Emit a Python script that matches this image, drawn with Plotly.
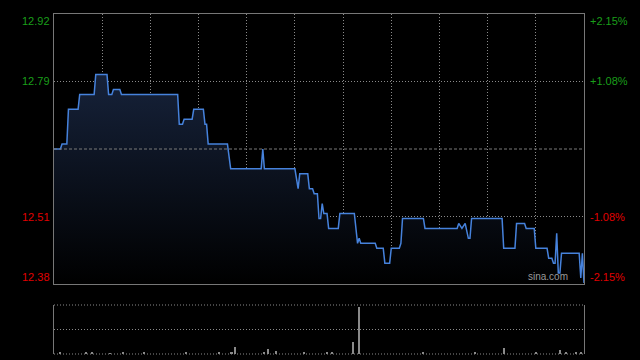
import plotly.graph_objects as go

# ---- data (HK stock intraday, minute index 0..330) ----
prev_close = 12.65
minutes = [0, 4, 5, 8, 9, 15, 16, 25, 26, 33, 34, 36, 37, 41, 42, 77, 78, 80, 81, 86,
           87, 93, 94, 95, 96, 108, 110, 129, 130, 131, 150, 152, 153, 158, 159, 161,
           162, 164, 165, 166, 167, 168, 170, 171, 177, 178, 187, 189, 190, 191, 200,
           201, 205, 206, 209, 210, 215, 216, 217, 230, 231, 251, 252, 254, 256, 258,
           259, 260, 279, 280, 287, 288, 293, 294, 299, 300, 307, 308, 310, 311, 312,
           313, 314, 315, 316, 327, 328, 329, 330]
prices = [12.65, 12.65, 12.66, 12.66, 12.73, 12.73, 12.76, 12.76, 12.80, 12.80, 12.76,
          12.76, 12.77, 12.77, 12.76, 12.76, 12.70, 12.70, 12.71, 12.71, 12.73, 12.73,
          12.70, 12.70, 12.66, 12.66, 12.61, 12.61, 12.65, 12.61, 12.61, 12.57, 12.60,
          12.60, 12.57, 12.57, 12.56, 12.56, 12.51, 12.51, 12.54, 12.52, 12.52, 12.49,
          12.49, 12.52, 12.52, 12.46, 12.47, 12.46, 12.46, 12.45, 12.45, 12.42, 12.42,
          12.45, 12.45, 12.46, 12.51, 12.51, 12.49, 12.49, 12.50, 12.49, 12.50, 12.47,
          12.47, 12.51, 12.51, 12.45, 12.45, 12.50, 12.50, 12.49, 12.49, 12.45, 12.45,
          12.43, 12.43, 12.42, 12.42, 12.48, 12.40, 12.40, 12.44, 12.44, 12.39, 12.44,
          12.38]

vol_minutes = [4, 20, 24, 35, 43, 56, 82, 103, 110, 111, 113, 131, 133, 138, 156,
               170, 173, 186, 190, 230, 262, 280, 300, 315, 319, 325, 328]
vol_values = [15, 15, 12, 10, 15, 25, 15, 12, 15, 12, 70, 20, 50, 35, 12,
              15, 12, 120, 480, 12, 15, 60, 12, 40, 20, 15, 20]
vol_max = 500

pct_levels = [0.0215, 0.0108, -0.0108, -0.0215]
left_labels = ["12.92", "12.79", "12.51", "12.38"]
right_labels = ["+2.15%", "+1.08%", "-1.08%", "-2.15%"]
label_colors = ["#1a9e1a", "#1a9e1a", "#e00000", "#e00000"]
time_grid = [30, 60, 90, 120, 150, 180, 210, 240, 270, 300]

level_vals = [prev_close * (1 + p) for p in pct_levels]
y_top = level_vals[0]
y_bot = level_vals[-1]

fig = go.Figure()
fig.add_trace(go.Scatter(
    x=minutes, y=prices, mode="lines",
    line=dict(color="#4682dc", width=1.5),
    fill="tozeroy",
    fillgradient=dict(type="vertical",
                      colorscale=[[0, "rgba(0,0,0,1)"], [1, "#16223a"]],
                      start=y_bot, stop=max(prices)),
    xaxis="x", yaxis="y", hoverinfo="skip", showlegend=False))

fig.add_trace(go.Bar(
    x=vol_minutes, y=vol_values, width=0.7,
    marker=dict(color="#8a8a8a", line=dict(width=0)),
    xaxis="x2", yaxis="y2", showlegend=False, hoverinfo="skip"))

grid_dash = "1px,2px"
fig.update_layout(
    width=640, height=360,
    margin=dict(l=54, r=56, t=14, b=6),
    paper_bgcolor="black", plot_bgcolor="black",
    font=dict(family="Liberation Sans, Arial, sans-serif", size=11),
    bargap=0,
    xaxis=dict(domain=[0, 1], range=[0, 330], showticklabels=False, ticks="",
               tickvals=time_grid, showgrid=True, gridcolor="#8a8a8a",
               griddash=grid_dash, gridwidth=1, showline=True, mirror=True,
               linecolor="#777", linewidth=1, zeroline=False, anchor="y"),
    yaxis=dict(domain=[0.2059, 1], range=[y_bot, y_top], showticklabels=False,
               ticks="", tickvals=[level_vals[1], level_vals[2]], showgrid=True,
               gridcolor="#8a8a8a", griddash=grid_dash, showline=True, mirror=True,
               linecolor="#777", linewidth=1, zeroline=False, anchor="x"),
    xaxis2=dict(domain=[0, 1], range=[0, 330], showticklabels=False, ticks="",
                showgrid=False, showline=False, zeroline=False, anchor="y2"),
    yaxis2=dict(domain=[0, 0.1441], range=[0, vol_max], showticklabels=False,
                ticks="", showgrid=False, showline=True, mirror=True,
                linecolor="#777", linewidth=1, zeroline=False, anchor="x2"),
)

# previous close dashed line
fig.add_shape(type="line", xref="x domain", yref="y", x0=0, x1=1,
              y0=prev_close, y1=prev_close,
              line=dict(color="#7a7a7a", width=1, dash="3px,2px"))

# volume panel dotted lines
for f in [0, 0.5, 1]:
    fig.add_shape(type="line", xref="x2 domain", yref="y2 domain", x0=0, x1=1,
                  y0=f, y1=f, line=dict(color="#8a8a8a", width=1, dash=grid_dash),
                  layer="below")

# axis labels
for i, v in enumerate(level_vals):
    if i == 0:
        ya, ys = "top", 1
    elif i == len(level_vals) - 1:
        ya, ys = "bottom", -1
    else:
        ya, ys = "middle", 0
    fig.add_annotation(x=0, xref="paper", y=v, yref="y", text=left_labels[i],
                       showarrow=False, xanchor="right", yanchor=ya, xshift=-2,
                       yshift=ys, font=dict(color=label_colors[i], size=11))
    fig.add_annotation(x=1, xref="paper", y=v, yref="y", text=right_labels[i],
                       showarrow=False, xanchor="left", yanchor=ya, xshift=4,
                       yshift=ys, font=dict(color=label_colors[i], size=11))

fig.add_annotation(x=1, xref="paper", y=y_bot, yref="y", text="sina.com",
                   showarrow=False, xanchor="right", yanchor="bottom", xshift=-14,
                   yshift=0, font=dict(color="#9a9a9a", size=10))

fig.write_html("out.html")
